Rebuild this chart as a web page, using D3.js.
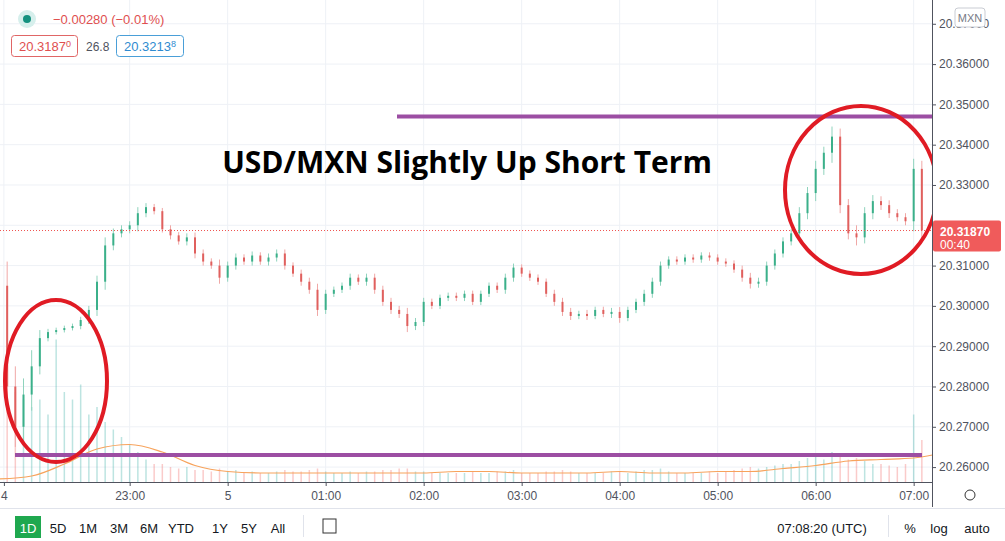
<!DOCTYPE html>
<html lang="en">
<head>
<meta charset="UTF-8">
<script src="https://d3js.org/d3.v7.min.js"></script>
<title>USD/MXN</title>
<style>
  body { margin: 0; background: #fff; }
  svg { display: block; font-family: "Liberation Sans Narrow", "Liberation Sans", sans-serif; }
  .grid line { stroke: #eef1f6; }
  .axis text { fill: #50535e; font-size: 12px; }
  .axis line, .axis path { stroke: #50535e; }
</style>
</head>
<body>
<svg width="1005" height="541"></svg>
<script>
// 5-minute candles starting 21:40 on the 4th
var startTime = "2021-03-04T21:40:00";
var closes = [
  20.3050, 20.2800, 20.2700, 20.2780, 20.2850, 20.2920, 20.2935, 20.2940, 20.2945, 20.2950,
  20.2965, 20.2990, 20.3060, 20.3150, 20.3180, 20.3190, 20.3200, 20.3230, 20.3245, 20.3235,
  20.3190, 20.3175, 20.3160, 20.3170, 20.3130, 20.3110, 20.3100, 20.3070, 20.3100, 20.3120,
  20.3110, 20.3125, 20.3110, 20.3120, 20.3130, 20.3100, 20.3080, 20.3060, 20.3040, 20.2990,
  20.3030, 20.3040, 20.3050, 20.3070, 20.3060, 20.3070, 20.3040, 20.3010, 20.2990, 20.2980,
  20.2950, 20.2960, 20.3010, 20.3000, 20.3020, 20.3025, 20.3020, 20.3030, 20.3010, 20.3030,
  20.3050, 20.3040, 20.3070, 20.3095, 20.3080, 20.3070, 20.3060, 20.3030, 20.3010, 20.2985,
  20.2975, 20.2980, 20.2975, 20.2990, 20.2980, 20.2985, 20.2970, 20.2990, 20.3010, 20.3030,
  20.3060, 20.3100, 20.3115, 20.3110, 20.3120, 20.3115, 20.3125, 20.3120, 20.3110, 20.3105,
  20.3090, 20.3070, 20.3055, 20.3060, 20.3100, 20.3130, 20.3160, 20.3180, 20.3230, 20.3280,
  20.3340, 20.3380, 20.3420, 20.3250, 20.3180, 20.3170, 20.3230, 20.3260, 20.3250, 20.3230,
  20.3220, 20.3210, 20.3340, 20.3187
];
var firstOpen = 20.3000;
// wick extension beyond body, in pips (0.0001)
var wicks = [
  15, 60, 50, 40, 40, 20, 8, 6, 6, 6, 8, 10, 15, 20, 12, 10, 10, 15, 10, 8,
  8, 10, 8, 10, 12, 10, 8, 15, 10, 10, 8, 10, 8, 10, 10, 10, 8, 10, 10, 15,
  10, 8, 8, 10, 8, 10, 10, 10, 10, 10, 15, 10, 10, 8, 8, 8, 8, 8, 8, 8,
  8, 8, 10, 10, 8, 8, 8, 8, 10, 10, 10, 8, 10, 8, 8, 10, 12, 8, 8, 10,
  10, 10, 8, 8, 8, 8, 8, 8, 8, 8, 8, 10, 12, 10, 10, 10, 10, 10, 15, 15,
  20, 15, 25, 20, 15, 20, 15, 15, 12, 12, 10, 10, 25, 20
];
var volumes = [
  40, 75, 60, 55, 50, 55, 45, 95, 60, 55, 65, 45, 50, 40, 35, 30, 25, 20, 15, 12,
  12, 10, 9, 10, 8, 8, 7, 9, 7, 8, 6, 7, 6, 6, 7, 8, 7, 7, 8, 9,
  7, 6, 6, 7, 6, 7, 7, 8, 8, 9, 9, 7, 7, 6, 6, 6, 6, 6, 7, 6,
  6, 7, 7, 8, 6, 6, 6, 7, 7, 8, 7, 6, 6, 6, 6, 7, 7, 6, 7, 8,
  8, 9, 7, 6, 6, 6, 6, 7, 6, 7, 8, 9, 10, 9, 10, 11, 12, 12, 14, 16,
  18, 15, 20, 18, 15, 16, 14, 12, 12, 11, 10, 12, 45, 28
];
// volume moving average, one value every 4 candles
var volMA = [
  2, 4, 12, 22, 25, 20, 11, 7, 6, 6, 6, 6, 6, 6, 7, 7,
  6, 6, 6, 7, 6, 6, 7, 7, 9, 11, 14, 15, 16, 20
];
var priceTicks = [20.26, 20.27, 20.28, 20.29, 20.30, 20.31, 20.32, 20.33, 20.34, 20.35, 20.36, 20.37];
var timeTicks = ["2021-03-04T21:43", "2021-03-04T23:00", "2021-03-05T00:00", "2021-03-05T01:00", "2021-03-05T02:00",
  "2021-03-05T03:00", "2021-03-05T04:00", "2021-03-05T05:00", "2021-03-05T06:00", "2021-03-05T07:00"];
var timeLabels = ["4", "23:00", "5", "01:00", "02:00", "03:00", "04:00", "05:00", "06:00", "07:00"];
var lastPrice = 20.3187;
var topLevel = 20.3470, bottomLevel = 20.2630;
var rangeButtons = ["1D", "5D", "1M", "3M", "6M", "YTD", "1Y", "5Y", "All"];

var svg = d3.select("svg");
var plotW = 932, plotH = 482;

var t0 = new Date(startTime);
var candles = closes.map(function(c, i) {
  var o = i === 0 ? firstOpen : closes[i - 1];
  var w = wicks[i] * 0.0001;
  return { t: new Date(t0.getTime() + i * 300000), o: o, c: c,
           h: Math.max(o, c) + w, l: Math.min(o, c) - w, v: volumes[i] };
});

var x = d3.scaleTime()
  .domain([new Date("2021-03-04T21:40:00"), new Date("2021-03-05T07:10:00")])
  .range([-1, 930]);
var y = d3.scaleLinear().domain([20.2563, 20.3759]).range([plotH, 0]);
var yv = d3.scaleLinear().domain([0, 100]).range([plotH, plotH - 150]);

// grid
var grid = svg.append("g").attr("class", "grid");
grid.selectAll(".gx").data(timeTicks).enter().append("line")
  .attr("x1", function(d) { return x(new Date(d)); }).attr("x2", function(d) { return x(new Date(d)); })
  .attr("y1", 0).attr("y2", plotH);
grid.selectAll(".gy").data(priceTicks).enter().append("line")
  .attr("x1", 0).attr("x2", plotW)
  .attr("y1", function(d) { return y(d); }).attr("y2", function(d) { return y(d); });

// volume
svg.append("g").selectAll("rect").data(candles).enter().append("rect")
  .attr("x", function(d) { return x(d.t) - 0.75; })
  .attr("width", 1.5)
  .attr("y", function(d) { return yv(d.v); })
  .attr("height", function(d) { return plotH - yv(d.v); })
  .attr("fill", function(d) { return d.c >= d.o ? "rgba(38,166,154,0.3)" : "rgba(239,83,80,0.3)"; });

svg.append("path")
  .datum(volMA)
  .attr("fill", "none").attr("stroke", "#f7a35c").attr("stroke-width", 1.2)
  .attr("d", d3.line()
    .x(function(d, i) { return x(new Date(t0.getTime() + i * 4 * 300000)); })
    .y(function(d) { return yv(d); })
    .curve(d3.curveMonotoneX));

// candles
var cg = svg.append("g").selectAll("g").data(candles).enter().append("g");
cg.append("line")
  .attr("x1", function(d) { return x(d.t); }).attr("x2", function(d) { return x(d.t); })
  .attr("y1", function(d) { return y(d.h); }).attr("y2", function(d) { return y(d.l); })
  .attr("stroke", function(d) { return d.c >= d.o ? "#8fd3bd" : "#f0a8a6"; });
cg.append("rect")
  .attr("x", function(d) { return x(d.t) - 1; })
  .attr("width", 2)
  .attr("y", function(d) { return y(Math.max(d.o, d.c)); })
  .attr("height", function(d) { return Math.max(1, Math.abs(y(d.o) - y(d.c))); })
  .attr("fill", function(d) { return d.c >= d.o ? "#3bb08a" : "#e0605e"; });

// last price dotted line
svg.append("line").attr("x1", 0).attr("x2", plotW)
  .attr("y1", y(lastPrice)).attr("y2", y(lastPrice))
  .attr("stroke", "#ef5350").attr("stroke-dasharray", "1,2");

// purple levels
svg.append("line").attr("x1", 397).attr("x2", 932).attr("y1", y(topLevel)).attr("y2", y(topLevel))
  .attr("stroke", "#9c4ea3").attr("stroke-width", 4);
svg.append("line").attr("x1", 15).attr("x2", 922).attr("y1", y(bottomLevel)).attr("y2", y(bottomLevel))
  .attr("stroke", "#9c4ea3").attr("stroke-width", 4);

// red circles
svg.append("ellipse").attr("cx", 56).attr("cy", 381).attr("rx", 51).attr("ry", 81)
  .attr("fill", "none").attr("stroke", "#e01b24").attr("stroke-width", 4);
svg.append("ellipse").attr("cx", 861).attr("cy", 190).attr("rx", 76).attr("ry", 84)
  .attr("fill", "none").attr("stroke", "#e01b24").attr("stroke-width", 4);

// title
svg.append("text").attr("x", 467).attr("y", 173).attr("text-anchor", "middle")
  .attr("font-family", "Open Sans, sans-serif").attr("font-weight", 700).attr("font-size", "30px")
  .attr("fill", "#000").text("USD/MXN Slightly Up Short Term");

// right price axis
svg.append("rect").attr("x", plotW).attr("y", 0).attr("width", 73).attr("height", plotH).attr("fill", "#fff");
var ya = svg.append("g").attr("class", "axis").attr("transform", "translate(" + plotW + ",0)")
  .call(d3.axisRight(y).tickValues(priceTicks).tickSize(4)
    .tickFormat(function(d) { return Math.abs(d - 20.32) < 1e-9 ? "" : d.toFixed(5); }));
ya.select(".domain").attr("d", "M0.5,0V" + plotH);

// bottom time axis
var xa = svg.append("g").attr("class", "axis").attr("transform", "translate(0," + plotH + ")")
  .call(d3.axisBottom(x).tickValues(timeTicks.map(function(d) { return new Date(d); }))
    .tickSize(4).tickFormat(function(d, i) { return timeLabels[i]; }));
xa.select(".domain").attr("d", "M0," + 0.5 + "H" + plotW);
xa.selectAll("text").attr("dy", "0.9em");

// price label
svg.append("rect").attr("x", plotW + 1).attr("y", y(lastPrice) - 10).attr("width", 68).attr("height", 31)
  .attr("rx", 2).attr("fill", "#f05b5b");
svg.append("text").attr("x", 940).attr("y", y(lastPrice) + 5).attr("fill", "#fff")
  .attr("font-size", "12px").attr("font-weight", 700).text(lastPrice.toFixed(5));
svg.append("text").attr("x", 940).attr("y", y(lastPrice) + 18).attr("fill", "#fff")
  .attr("font-size", "12px").text("00:40");

// MXN badge
svg.append("rect").attr("x", 955).attr("y", 8).attr("width", 30).attr("height", 19).attr("rx", 3)
  .attr("fill", "#fff").attr("stroke", "#c9ccd3");
svg.append("text").attr("x", 970).attr("y", 22).attr("text-anchor", "middle").attr("font-size", "11px")
  .attr("fill", "#787b86").text("MXN");

// legend
svg.append("circle").attr("cx", 27).attr("cy", 19).attr("r", 9).attr("fill", "#d6efec");
svg.append("circle").attr("cx", 27).attr("cy", 19).attr("r", 4).attr("fill", "#14917f");
svg.append("text").attr("x", 53).attr("y", 24).attr("font-size", "13px").attr("fill", "#e04f4f")
  .text("\u22120.00280 (\u22120.01%)");
svg.append("rect").attr("x", 11.5).attr("y", 35.5).attr("width", 66).attr("height", 21).attr("rx", 3)
  .attr("fill", "#fff").attr("stroke", "#e06666");
svg.append("text").attr("x", 19).attr("y", 51).attr("font-size", "13px").attr("fill", "#e04f4f")
  .html("20.3187<tspan font-size='9px' dy='-4'>0</tspan>");
svg.append("text").attr("x", 86).attr("y", 51).attr("font-size", "12px").attr("fill", "#50535e").text("26.8");
svg.append("rect").attr("x", 116.5).attr("y", 35.5).attr("width", 67).attr("height", 21).attr("rx", 3)
  .attr("fill", "#fff").attr("stroke", "#4a9fd8");
svg.append("text").attr("x", 124).attr("y", 51).attr("font-size", "13px").attr("fill", "#2f8bd0")
  .html("20.3213<tspan font-size='9px' dy='-4'>8</tspan>");

// settings icon
svg.append("circle").attr("cx", 970).attr("cy", 495).attr("r", 5).attr("fill", "none").attr("stroke", "#333");
svg.append("line").attr("x1", plotW + 0.5).attr("x2", plotW + 0.5).attr("y1", plotH).attr("y2", 507).attr("stroke", "#50535e");

// bottom toolbar
svg.append("line").attr("x1", 0).attr("x2", 1005).attr("y1", 508.5).attr("y2", 508.5).attr("stroke", "#e0e3eb");
var btnX = [28, 58, 88, 119, 149, 181, 220, 249, 278];
svg.append("rect").attr("x", 15).attr("y", 516).attr("width", 26).attr("height", 22).attr("fill", "#1fa84f");
svg.selectAll(".btn").data(rangeButtons).enter().append("text")
  .attr("x", function(d, i) { return btnX[i]; }).attr("y", 533).attr("text-anchor", "middle")
  .attr("font-size", "13px").attr("fill", function(d, i) { return i === 0 ? "#fff" : "#131722"; })
  .text(function(d) { return d; });
svg.append("line").attr("x1", 303.5).attr("x2", 303.5).attr("y1", 515).attr("y2", 537).attr("stroke", "#e0e3eb");
svg.append("rect").attr("x", 323).attr("y", 519).attr("width", 13).attr("height", 14).attr("fill", "none").attr("stroke", "#333");
svg.append("text").attr("x", 822).attr("y", 533).attr("text-anchor", "middle").attr("font-size", "13px")
  .attr("fill", "#131722").text("07:08:20 (UTC)");
svg.append("line").attr("x1", 888.5).attr("x2", 888.5).attr("y1", 515).attr("y2", 537).attr("stroke", "#e0e3eb");
[["%", 910], ["log", 939], ["auto", 977]].forEach(function(p) {
  svg.append("text").attr("x", p[1]).attr("y", 533).attr("text-anchor", "middle").attr("font-size", "13px")
    .attr("fill", "#131722").text(p[0]);
});
</script>
</body>
</html>
